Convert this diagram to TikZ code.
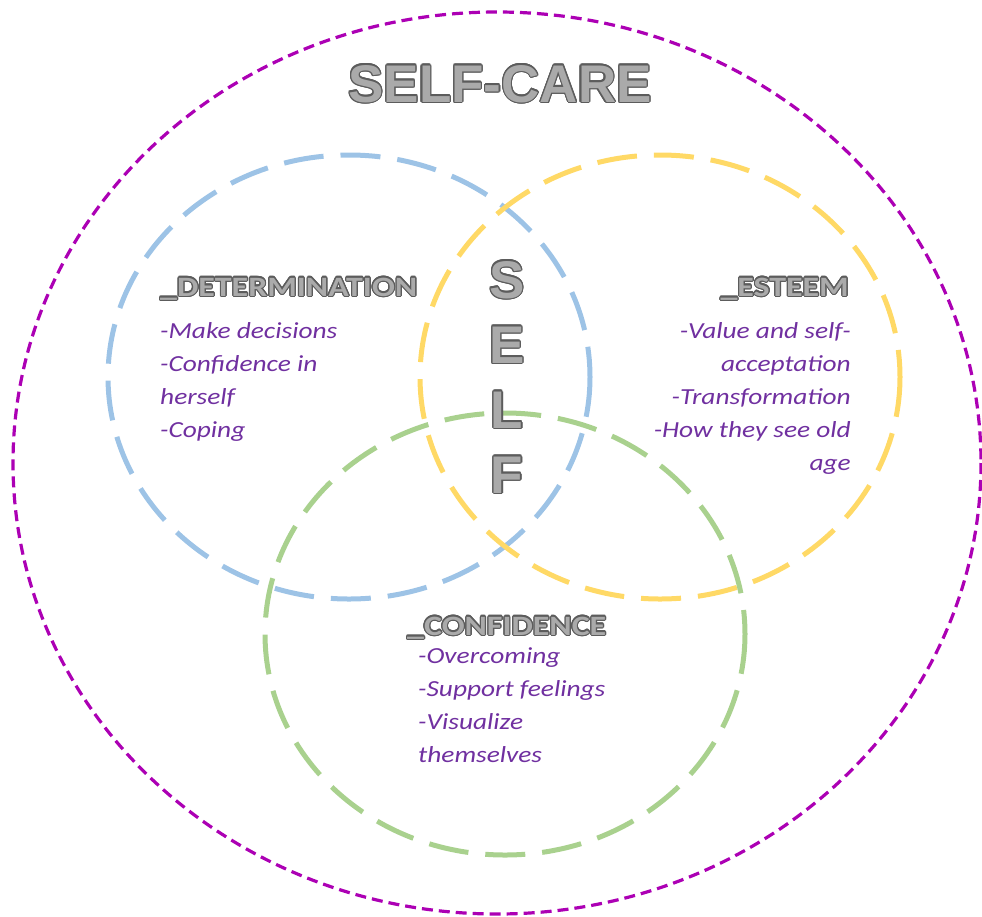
\documentclass[tikz,border=0pt]{standalone}
\usepackage{fontspec}
\setmainfont{Carlito}
\newfontfamily\arialfont{Liberation Sans}
\newfontfamily\listfont{Carlito}[FakeStretch=1.19]
\newfontfamily\headfont{Carlito}[FakeStretch=1.21]
\usetikzlibrary{calc}

\definecolor{ringpurple}{RGB}{172,0,180}
\definecolor{detblue}{RGB}{157,195,230}
\definecolor{estyellow}{RGB}{255,217,102}
\definecolor{congreen}{RGB}{169,209,142}
\definecolor{itempurple}{RGB}{112,48,160}
\definecolor{outl}{RGB}{92,92,92}
\definecolor{fillg}{RGB}{170,170,170}

% outlined lettering: a ring of dark copies under a grey fill
\newlength\outr
\setlength\outr{1.2pt}
\newcommand\ringtext[1]{%
  \foreach \ang in {0,22.5,...,337.5}{%
    \pgfmathsetlengthmacro\ox{\outr*cos(\ang)}%
    \pgfmathsetlengthmacro\oy{\outr*sin(\ang)}%
    \rlap{\hspace*{\ox}\raisebox{\oy}{\textcolor{outl}{#1}}}}%
  \textcolor{fillg}{#1}}

\tikzset{
  venn/.style={line width=5pt, dash pattern=on 40pt off 17pt},
  outerring/.style={line width=3.2pt, draw=ringpurple, dash pattern=on 11pt off 6pt},
  item/.style={inner sep=0pt, text=itempurple,
    font=\listfont\fontsize{23}{33}\selectfont\itshape},
  heading/.style={inner sep=0pt, font=\headfont\fontsize{28}{30}\selectfont\bfseries},
  bigletter/.style={inner sep=0pt, font=\arialfont\fontsize{53}{60}\selectfont\bfseries},
}

\begin{document}
\begin{tikzpicture}[x=1pt,y=-1pt]
\useasboundingbox (0,0) rectangle (982,916);

% enclosing self-care ring
\draw[outerring] (497,463) ellipse [x radius=484, y radius=451];

% the three overlapping sets
\draw[venn, draw=detblue]   (349,377) ellipse [x radius=241, y radius=222];
\draw[venn, draw=estyellow] (660,377) ellipse [x radius=240, y radius=222];
\draw[venn, draw=congreen]  (505,634) ellipse [x radius=240, y radius=221];

% title
\node[bigletter, anchor=base] (title) at (500,102) {\ringtext{SELF-CARE}};

% vertical SELF in the centre
\node[bigletter, anchor=base] (ls) at (507,298) {\ringtext{S}};
\node[bigletter, anchor=base] (le) at (507,363) {\ringtext{E}};
\node[bigletter, anchor=base] (ll) at (507,428) {\ringtext{L}};
\node[bigletter, anchor=base] (lf) at (507,493) {\ringtext{F}};

% determination (base anchor of a list sits on its last line)
\node[heading, anchor=base west] (dethead) at (160,296) {\ringtext{\_DETERMINATION}};
\node[item, anchor=base west, align=left] (detlist) at (160,437)
  {-Make decisions\\-Confidence in\\herself\\-Coping};

% esteem
\node[heading, anchor=base east] (esthead) at (849,296) {\ringtext{\_ESTEEM}};
\node[item, anchor=base east, align=right] (estlist) at (851,470)
  {-Value and self-\\acceptation\\-Transformation\\-How they see old\\age};

% confidence
\node[heading, anchor=base west] (conhead) at (407,635) {\ringtext{\_CONFIDENCE}};
\node[item, anchor=base west, align=left] (conlist) at (418,762)
  {-Overcoming\\-Support feelings\\-Visualize\\themselves};
\end{tikzpicture}
\end{document}
